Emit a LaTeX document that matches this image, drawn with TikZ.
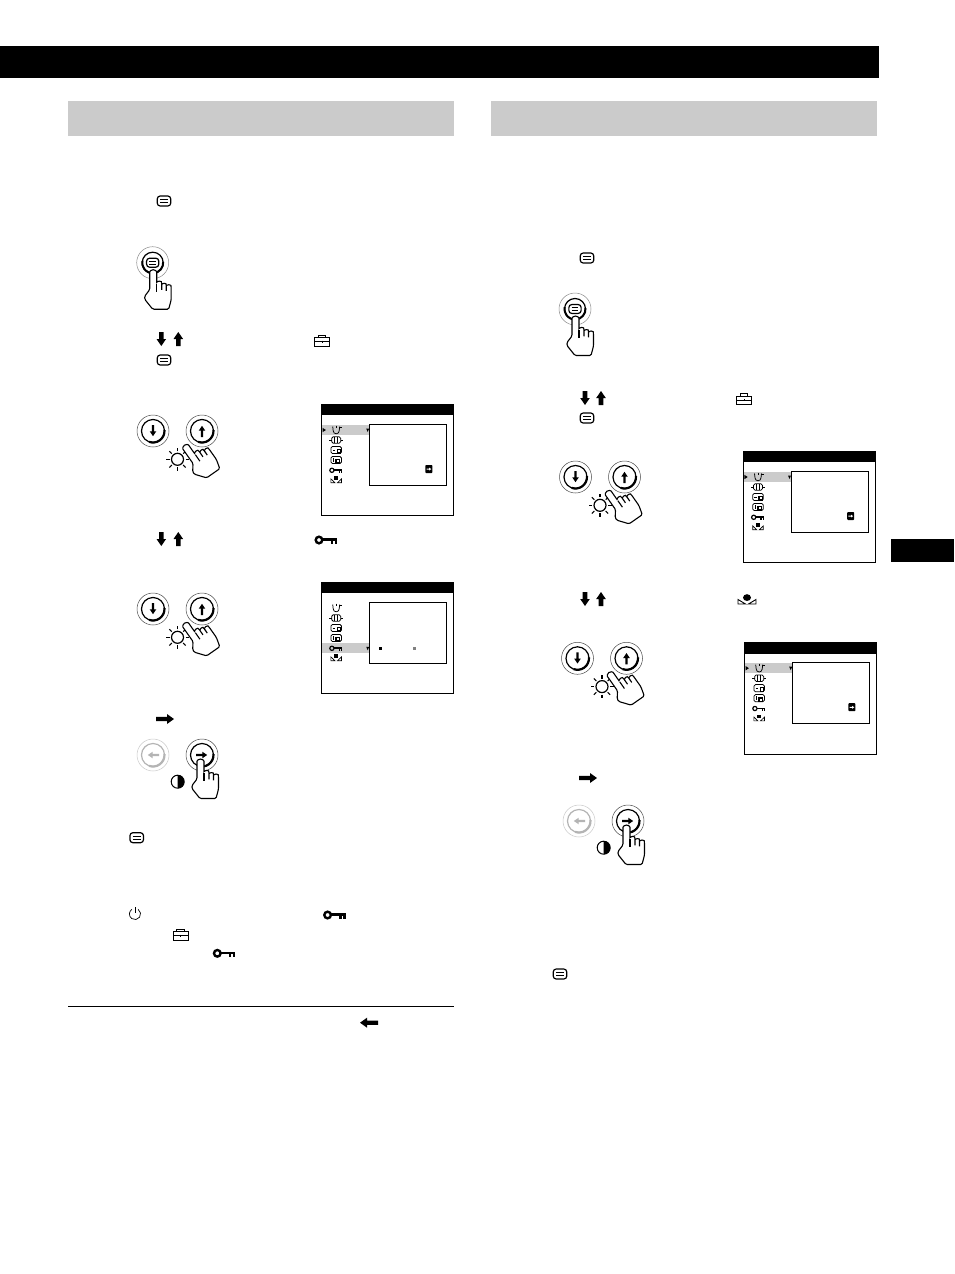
\documentclass[tikz,border=0pt]{standalone}
\definecolor{bargray}{HTML}{CBCBCB}
\definecolor{ringgray}{HTML}{8C8C8C}
\definecolor{pale}{HTML}{B4B4B4}
\tikzset{
  x=1pt,y=-1pt,
  thinline/.style={draw=black,line width=.7pt},
  iconline/.style={draw=black,line width=1.1pt},
  smallline/.style={draw=black,line width=.75pt},
  pics/menuicon/.style={code={
    \draw[iconline,line width=1.2pt,rounded corners=3pt,fill=white] (-6.8,-5) rectangle (6.8,5);
    \draw[iconline] (-3.8,-1.6)--(3.8,-1.6) (-3.8,1.6)--(3.8,1.6);
  }},
  pics/arrowdown/.style={code={
    \fill (-2.3,-7)--(2.3,-7)--(2.3,0)--(4.8,0)--(0,7)--(-4.8,0)--(-2.3,0)--cycle;
  }},
  pics/arrowglyph/.style={code={
    \fill[#1] (-6,-1.1)--(.3,-1.1)--(.3,-3.3)--(5.2,0)--(.3,3.3)--(.3,1.1)--(-6,1.1)--cycle;
  }},
  pics/bigarrow/.style={code={
    \fill (-9,-2.2)--(2,-2.2)--(2,-5)--(9,0)--(2,5)--(2,2.2)--(-9,2.2)--cycle;
  }},
  pics/toolbox/.style={code={
    \draw[thinline,line width=.9pt,fill=white] (-7.7,-2.5) rectangle (7.7,6);
    \draw[thinline,line width=.9pt] (-3.8,-2.5)--(-3.8,-5)--(3.8,-5)--(3.8,-2.5);
    \draw[thinline,line width=.9pt] (-7.7,1.6)--(7.7,1.6) (0,.6)--(0,2.6);
  }},
  pics/keyicon/.style={code={
    \draw[line width=2.4pt] (-6.7,0) circle[radius=3.3];
    \fill (-3,-1.6) rectangle (11.3,1.1);
    \fill (4.8,0) rectangle (7.4,3.8);
    \fill (8.8,0) rectangle (11.3,3.8);
  }},
  pics/headicon/.style={code={
    \fill (0,-2.4) ellipse[x radius=4,y radius=3.4];
    \draw[thinline,line width=.9pt] (-9,-.5)--(-9,4)--(-1.5,4)--cycle;
    \draw[thinline,line width=.9pt] (9,-.5)--(9,4)--(1.5,4)--cycle;
  }},
  pics/powericon/.style={code={
    \draw[thinline] (0,-7)--(0,-1);
    \draw[thinline] (3.2,-4.6) arc[start angle=-55,end angle=235,radius=5.6];
  }},
  pics/btn/.style 2 args={code={
    \draw[#1!70!white,line width=.5pt,fill=white] (0,0) circle[radius=16];
    \draw[#1,line width=1.2pt] (0,0) circle[radius=11.5];
    \draw[#1,line width=2.2pt] (0,0) ++(-5:11.5) arc[start angle=-5,end angle=110,radius=11.5];
    \pic[rotate=#2] {arrowglyph={#1}};
  }},
  pics/menubtn/.style={code={
    \draw[ringgray,line width=.5pt,fill=white] (0,0) circle[radius=16];
    \draw[black,line width=1.2pt] (0,0) circle[radius=10.5];
    \draw[black,line width=2pt] (0,0) ++(-5:10.5) arc[start angle=-5,end angle=190,radius=10.5];
    \pic[scale=.9] {menuicon};
  }},
  pics/hand/.style={code={
    \draw[iconline,fill=white,rounded corners=1.3pt]
      (-3.5,19)--(-3.5,2.5) arc[start angle=180,end angle=360,radius=3.5]
      --(3.5,13) arc[start angle=180,end angle=340,radius=2.6]--(8.5,20)
      --(8.5,15) arc[start angle=180,end angle=340,radius=2.4]--(13,21)
      --(13,16.5) arc[start angle=180,end angle=350,radius=2.5]
      --(18,29)--(15.5,38.5)--(-.5,38.5)--(-8.5,28.5)--(-8.5,25.5)--cycle;
    \draw[iconline] (3.5,13)--(3.5,21);
  }},
  pics/sunicon/.style={code={
    \draw[thinline,line width=1.2pt] (0,0) circle[radius=6];
    \foreach \a in {0,45,...,315} {\draw[thinline,line width=1.1pt] (\a:8)--(\a:11.5);}
  }},
  pics/halfdisc/.style={code={
    \draw[black,line width=1pt,fill=white] (0,0) circle[radius=6.5];
    \fill (0,-6.5) arc[start angle=-90,end angle=90,radius=6.5]--cycle;
  }},
  pics/updownpad/.style={code={
    \pic at (0,0) {btn={black}{-90}};
    \pic at (49,0) {btn={black}{90}};
    \pic at (24.5,28.3) {sunicon};
    \pic[rotate=35] at (32,15) {hand};
  }},
  pics/rightpad/.style={code={
    \pic at (0,0) {btn={pale}{180}};
    \pic at (49,0) {btn={black}{0}};
    \pic at (24.7,26.7) {halfdisc};
    \pic at (47.5,5) {hand};
  }},
  pics/menupad/.style={code={
    \pic at (0,0) {menubtn};
    \pic at (.5,8) {hand};
  }},
  pics/osdframe/.style={code={
    \draw[black,line width=.9pt,fill=white] (0,0) rectangle (132,111.5);
    \fill (0,0) rectangle (132,11);
    \fill[bargray] (.5,#1) rectangle (48,#1+9.6);
    \fill (44.5,#1+3.5)--(47.5,#1+3.5)--(46,#1+7)--cycle;
    \draw[black,line width=.9pt,fill=white] (48,20) rectangle (125,81.3);
    \pic at (14.5,25.7) {tunesmall};
    \pic at (14.5,35.7) {sizesmall};
    \pic at (14.5,45.7) {hpossmall};
    \pic at (14.5,55.7) {vpossmall};
    \pic at (14.5,66) {keysmall};
    \pic at (14.5,76.2) {headsmall};
  }},
  pics/tunesmall/.style={code={
    \draw[smallline] (-3.5,-3.5)--(-3,.8) arc[start angle=180,end angle=0,radius=3]--(3.5,-3.5);
    \draw[smallline] (.5,-4.5)--(.5,-2) (3,-2.5)--(5.5,-2.5);
  }},
  pics/sizesmall/.style={code={
    \draw[smallline,rounded corners=1.5pt] (-4.5,-3.2) rectangle (4.5,3.2);
    \draw[smallline] (-1.4,-3.2)--(-1.4,3.2) (1.4,-3.2)--(1.4,3.2);
    \draw[smallline,line width=.6pt] (-4.5,0)--(-6.8,0) (4.5,0)--(6.8,0);
  }},
  pics/hpossmall/.style={code={
    \draw[smallline,rounded corners=1.5pt] (-5.2,-3.6) rectangle (5.2,3.6);
    \draw[smallline] (-3.6,0)--(-1,0);
    \fill (.4,-1.2) rectangle (5.2,3.6);
    \fill[white] (1.7,.2) rectangle (3.8,2.3);
  }},
  pics/vpossmall/.style={code={
    \draw[smallline,rounded corners=1.5pt] (-5.2,-3.6) rectangle (5.2,3.6);
    \draw[smallline] (-3,-2.2)--(-3,2.2);
    \fill (-.8,-1) rectangle (4.2,3.6);
    \fill[white] (.6,.4) rectangle (2.8,2.4);
  }},
  pics/keysmall/.style={code={
    \draw[line width=1.2pt] (-4.3,0) circle[radius=2.1];
    \fill (-2.2,-1) rectangle (6.2,.6);
    \fill (2.4,0) rectangle (3.7,2.3);
    \fill (4.9,0) rectangle (6.2,2.3);
  }},
  pics/headsmall/.style={code={
    \fill (-1.8,-4.2) rectangle (1.8,-.8);
    \draw[smallline,line width=.65pt] (-5.3,-1.6)--(-5.3,2.2)--(-1.3,2.2)--cycle;
    \draw[smallline,line width=.65pt] (5.3,-1.6)--(5.3,2.2)--(1.3,2.2)--cycle;
  }},
  pics/osdmark/.style={code={
    \fill (.8,25.7-2.2)--(4.2,25.7)--(.8,25.7+2.2)--cycle;
    \fill[rounded corners=.8pt] (103.7,60.7) rectangle (110.7,68.7);
    \pic[scale=.42] at (107.4,64.8) {arrowglyph={white}};
  }},
}
\begin{document}
\begin{tikzpicture}
\useasboundingbox (0,0) rectangle (954,1274);
\fill[white] (0,0) rectangle (954,1274);
% header and tabs
\fill[black] (0,46) rectangle (879,78);
\fill[bargray] (68,101) rectangle (454,136);
\fill[bargray] (491,101) rectangle (877,136);
\fill[black] (891,539) rectangle (954,562);
% left column
\pic at (164,201) {menuicon};
\pic at (152.7,262.7) {menupad};
\pic at (161.3,339) {arrowdown};
\pic[rotate=180] at (178.3,339) {arrowdown};
\pic at (322,340) {toolbox};
\pic at (164,360) {menuicon};
\pic at (153,431) {updownpad};
\pic at (321.7,404.3) {osdframe={20.7}};
\pic at (321.7,404.3) {osdmark};
\pic at (161.3,539) {arrowdown};
\pic[rotate=180] at (178.3,539) {arrowdown};
\pic at (325.7,540) {keyicon};
\pic at (153,609) {updownpad};
\pic at (321.7,582.3) {osdframe={61}};
\fill[black] (378.8,646.8) rectangle (381.8,649.8);
\fill[gray] (412.8,646.8) rectangle (415.8,649.8);
\pic at (165,719) {bigarrow};
\pic at (153,755) {rightpad};
\pic at (136.7,837.7) {menuicon};
\pic at (135,914) {powericon};
\pic at (334.3,915) {keyicon};
\pic at (180.7,934.3) {toolbox};
\pic at (224,953.3) {keyicon};
\draw[black,line width=1pt] (68,1006.5)--(454,1006.5);
\pic[rotate=180] at (369,1022.7) {bigarrow};
% right column
\pic at (587,258) {menuicon};
\pic at (575,309) {menupad};
\pic at (585,398) {arrowdown};
\pic[rotate=180] at (601,398) {arrowdown};
\pic at (744,398.5) {toolbox};
\pic at (587,418) {menuicon};
\pic at (575.5,477) {updownpad};
\pic at (743.5,451.3) {osdframe={20.7}};
\pic at (743.5,451.3) {osdmark};
\pic at (585,599) {arrowdown};
\pic[rotate=180] at (601,599) {arrowdown};
\pic at (747,600) {headicon};
\pic at (577.5,658.3) {updownpad};
\pic at (744.7,642.5) {osdframe={20.7}};
\pic at (744.7,642.5) {osdmark};
\pic at (588,778) {bigarrow};
\pic at (579,821) {rightpad};
\pic at (560,974) {menuicon};
\end{tikzpicture}
\end{document}
